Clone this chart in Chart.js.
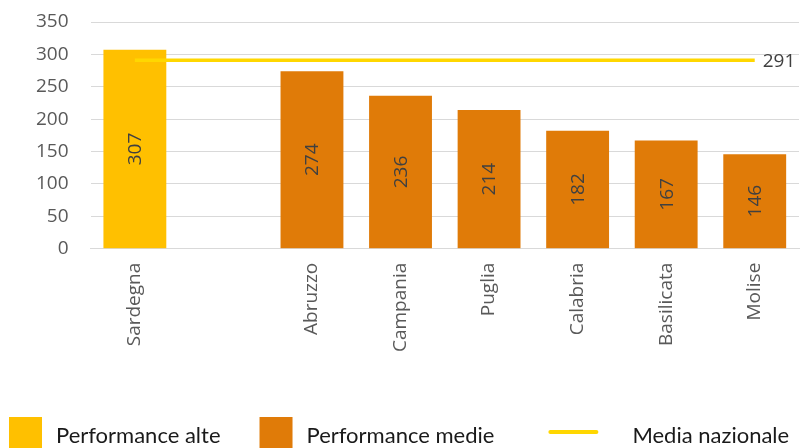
<!DOCTYPE html>
<html lang="it">
<head>
<meta charset="utf-8">
<script src="https://cdn.jsdelivr.net/npm/chart.js@4/dist/chart.umd.min.js"></script>
<style>
    body { margin: 0; background: #ffffff; }
    #box { width: 800px; height: 448px; position: relative; }
</style>
</head>
<body>
<div id="box"><canvas id="grafico"></canvas></div>
<script>
// Regioni (la seconda colonna resta vuota come separatore)
const categorie = ['Sardegna', '', 'Abruzzo', 'Campania', 'Puglia', 'Calabria', 'Basilicata', 'Molise'];
const performanceAlte = [307, null, null, null, null, null, null, null];
const performanceMedie = [null, null, 274, 236, 214, 182, 167, 146];
const mediaNazionale = [291, 291, 291, 291, 291, 291, 291, 291];
const asseYMax = 350;
const asseYPasso = 50;

const GIALLO = '#FFC000';
const ARANCIO = '#E07B08';
const LINEA = '#FFD700';
const FONT_ASSI = "'Open Sans', sans-serif";
const FONT_LEGENDA = "Lato, 'Open Sans', sans-serif";

// Valori scritti in verticale al centro di ogni barra
const etichetteBarre = {
    id: 'etichetteBarre',
    afterDatasetsDraw(chart) {
        const ctx = chart.ctx;
        ctx.save();
        ctx.font = '19px ' + FONT_ASSI;
        ctx.fillStyle = '#404040';
        ctx.textAlign = 'center';
        ctx.textBaseline = 'middle';
        chart.data.datasets.forEach((ds, i) => {
            if (ds.type !== 'bar') return;
            chart.getDatasetMeta(i).data.forEach((bar, j) => {
                const v = ds.data[j];
                if (v == null) return;
                ctx.save();
                ctx.translate(bar.x, (bar.y + bar.base) / 2);
                ctx.rotate(-Math.PI / 2);
                ctx.fillText(String(v), 0, 1);
                ctx.restore();
            });
        });
        // valore della media a destra della linea
        const idx = chart.data.datasets.findIndex(d => d.type === 'line');
        const punti = chart.getDatasetMeta(idx).data;
        const ultimo = punti[punti.length - 1];
        const valori = chart.data.datasets[idx].data;
        ctx.textAlign = 'left';
        ctx.fillText(String(valori[valori.length - 1]), ultimo.x + 8, ultimo.y + 1);
        ctx.restore();
    }
};

// Legenda in fondo, disegnata a mano per avere quadrati e linea come nell'originale
const legendaBasso = {
    id: 'legendaBasso',
    afterDraw(chart) {
        const ctx = chart.ctx;
        ctx.save();
        ctx.font = '22px ' + FONT_LEGENDA;
        ctx.textBaseline = 'middle';
        ctx.fillStyle = '#1a1a1a';
        const yTesto = 436;
        let x = 9;
        chart.data.datasets.forEach(ds => {
            if (ds.type === 'line') {
                x += 15;
                ctx.strokeStyle = ds.borderColor;
                ctx.lineWidth = 4;
                ctx.lineCap = 'round';
                ctx.beginPath();
                ctx.moveTo(x + 2, 432);
                ctx.lineTo(x + 48, 432);
                ctx.stroke();
                x += 50 + 34;
            } else {
                ctx.fillStyle = ds.backgroundColor;
                ctx.fillRect(x, 417, 33, 31);
                x += 33 + 14;
            }
            ctx.fillStyle = '#1a1a1a';
            ctx.fillText(ds.label, x, yTesto);
            x += ctx.measureText(ds.label).width + 39;
        });
        ctx.restore();
    }
};

new Chart(document.getElementById('grafico'), {
    data: {
        labels: categorie,
        datasets: [
            {
                type: 'bar',
                label: 'Performance alte',
                data: performanceAlte,
                backgroundColor: GIALLO,
                grouped: false,
                barPercentage: 0.71,
                categoryPercentage: 1,
                order: 2
            },
            {
                type: 'bar',
                label: 'Performance medie',
                data: performanceMedie,
                backgroundColor: ARANCIO,
                grouped: false,
                barPercentage: 0.71,
                categoryPercentage: 1,
                order: 2
            },
            {
                type: 'line',
                label: 'Media nazionale',
                data: mediaNazionale,
                borderColor: LINEA,
                borderWidth: 3.5,
                pointRadius: 0,
                fill: false,
                order: 1
            }
        ]
    },
    options: {
        responsive: true,
        maintainAspectRatio: false,
        animation: false,
        layout: { padding: { top: 22, left: 14, right: 1, bottom: 82 } },
        plugins: {
            legend: { display: false },
            tooltip: { enabled: false }
        },
        scales: {
            x: {
                grid: { display: false, drawTicks: false },
                border: { color: '#d9d9d9', width: 1 },
                ticks: {
                    font: { family: FONT_ASSI, size: 19 },
                    color: '#595959',
                    minRotation: 90,
                    maxRotation: 90,
                    autoSkip: false,
                    padding: 14
                }
            },
            y: {
                min: 0,
                max: asseYMax,
                grid: { color: '#d9d9d9', drawTicks: false },
                border: { display: false },
                ticks: {
                    stepSize: asseYPasso,
                    font: { family: FONT_ASSI, size: 19 },
                    color: '#595959',
                    padding: 22
                },
                // il margine superiore lo decide layout.padding
                afterFit(scale) {
                    scale.paddingTop = 0;
                }
            }
        }
    },
    plugins: [etichetteBarre, legendaBasso]
});
</script>
</body>
</html>
